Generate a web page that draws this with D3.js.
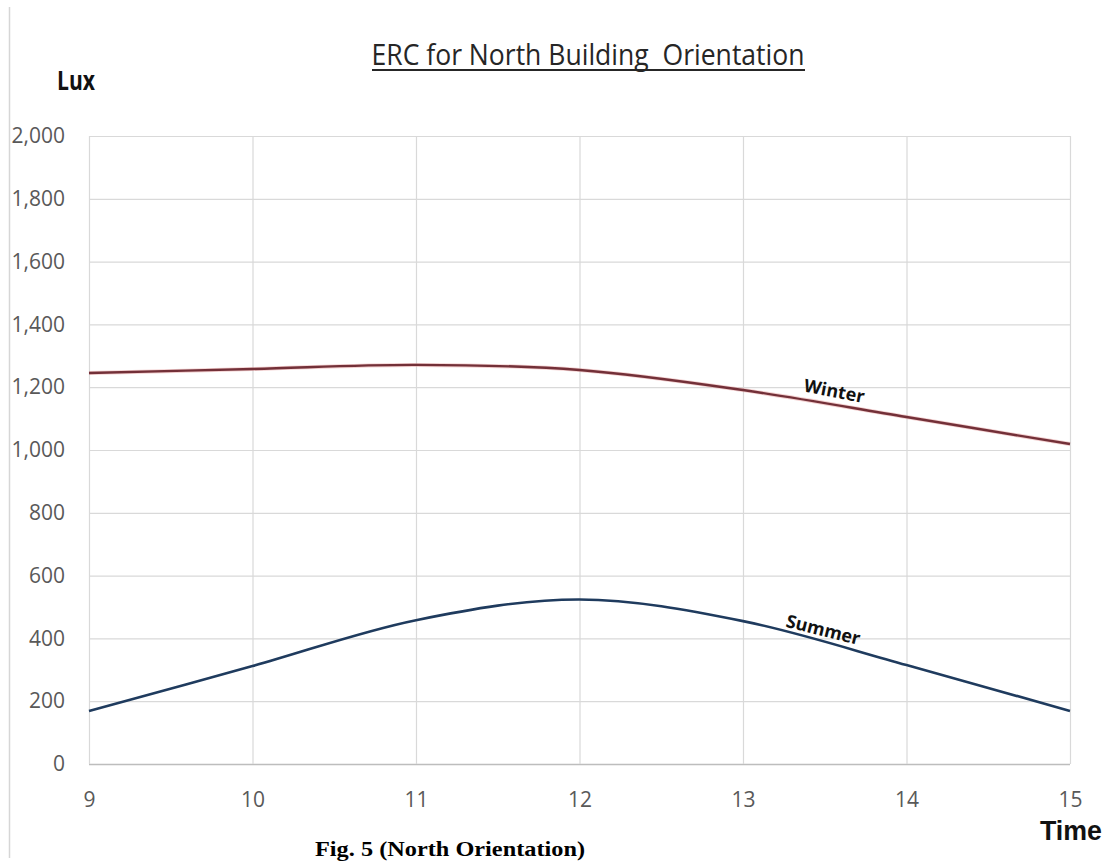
<!DOCTYPE html>
<html>
<head>
<meta charset="utf-8">
<script src="https://cdn.jsdelivr.net/npm/d3@7"></script>
<style>
  body { margin: 0; background: #ffffff; }
  svg { display: block; }
</style>
</head>
<body>
<div id="chart"></div>
<script>
// hours of the day (x axis)
var hours = [9, 10, 11, 12, 13, 14, 15];
// illuminance in lux
var winter = [1245, 1258, 1271, 1255, 1191, 1105, 1019];
var summer = [169, 312, 458, 524, 455, 315, 169];
var yTicks = [0, 200, 400, 600, 800, 1000, 1200, 1400, 1600, 1800, 2000];
var seriesNames = ["Winter", "Summer"];
// where the in-chart labels sit, in data units [hour, lux]
var labelAt = [[13.55, 1165], [13.48, 405]];

var W = 1111, H = 861;
var margin = {top: 136, right: 41, bottom: 97, left: 89};
var width = W - margin.left - margin.right,
    height = H - margin.top - margin.bottom;

var svg = d3.select('#chart')
    .append('svg')
    .attr('width', W)
    .attr('height', H);

// thin figure border on the left
svg.append('line')
    .attr('x1', 9.5).attr('x2', 9.5)
    .attr('y1', 7).attr('y2', 858)
    .attr('stroke', '#d6d6d6')
    .attr('stroke-width', 1.5);

var g = svg.append('g')
    .attr('transform', 'translate(' + margin.left + ',' + margin.top + ')');

var x = d3.scaleLinear().domain([9, 15]).range([0, width]);
var y = d3.scaleLinear().domain([0, 2000]).range([height, 0]);

// horizontal gridlines + y labels
var yAxis = g.append('g')
    .call(d3.axisLeft(y).tickValues(yTicks).tickSize(-width).tickPadding(24).tickFormat(d3.format(',')));
yAxis.select('.domain').remove();
yAxis.selectAll('.tick line')
    .attr('stroke', function(d) { return d === 0 ? '#bdbdbd' : '#d9d9d9'; })
    .attr('stroke-width', function(d) { return d === 0 ? 1.6 : 1.2; });
yAxis.selectAll('.tick text')
    .attr('fill', '#595959')
    .attr('font-family', '"Open Sans", sans-serif')
    .attr('font-size', 21);

// vertical gridlines + x labels
var xAxis = g.append('g')
    .attr('transform', 'translate(0,' + height + ')')
    .call(d3.axisBottom(x).tickValues(hours).tickSize(-height).tickPadding(28).tickFormat(d3.format('d')));
xAxis.select('.domain').remove();
xAxis.selectAll('.tick line')
    .attr('stroke', '#d9d9d9')
    .attr('stroke-width', 1.2);
xAxis.selectAll('.tick text')
    .attr('fill', '#595959')
    .attr('font-family', '"Open Sans", sans-serif')
    .attr('font-size', 21);

// smooth lines like Excel's "smoothed line"
var line = d3.line()
    .x(function(d, i) { return x(hours[i]); })
    .y(function(d) { return y(d); })
    .curve(d3.curveCatmullRom.alpha(0.5));

g.append('path')
    .datum(winter)
    .attr('d', line)
    .attr('fill', 'none')
    .attr('stroke', '#e8a0a0')
    .attr('stroke-width', 4)
    .attr('opacity', 0.5);
g.append('path')
    .datum(winter)
    .attr('d', line)
    .attr('fill', 'none')
    .attr('stroke', '#733038')
    .attr('stroke-width', 2.4);

g.append('path')
    .datum(summer)
    .attr('d', line)
    .attr('fill', 'none')
    .attr('stroke', '#1f3b5e')
    .attr('stroke-width', 2.6);

// series labels along the curves
var angles = [11, 14];
seriesNames.forEach(function(name, i) {
    var px = x(labelAt[i][0]), py = y(labelAt[i][1]);
    g.append('text')
        .attr('transform', 'translate(' + px + ',' + py + ') rotate(' + angles[i] + ')')
        .attr('text-anchor', 'middle')
        .attr('dy', -1)
        .attr('font-family', '"Open Sans", sans-serif')
        .attr('font-weight', 'bold')
        .attr('font-size', 18)
        .attr('fill', '#111111')
        .text(name);
});

// title, underlined
svg.append('text')
    .attr('x', 588)
    .attr('y', 65)
    .attr('text-anchor', 'middle')
    .attr('font-family', '"Open Sans", sans-serif')
    .attr('font-size', 29)
    .attr('fill', '#262626')
    .attr('textLength', 433)
    .attr('lengthAdjust', 'spacingAndGlyphs')
    .style('white-space', 'pre')
    .text('ERC for North Building  Orientation');
svg.append('line')
    .attr('x1', 372).attr('x2', 805)
    .attr('y1', 70).attr('y2', 70)
    .attr('stroke', '#262626')
    .attr('stroke-width', 2);

// axis names
svg.append('text')
    .attr('x', 57).attr('y', 90)
    .attr('font-family', '"Open Sans", sans-serif')
    .attr('font-weight', 'bold')
    .attr('font-size', 27)
    .attr('fill', '#111111')
    .attr('textLength', 38)
    .attr('lengthAdjust', 'spacingAndGlyphs')
    .text('Lux');

svg.append('text')
    .attr('x', 1040).attr('y', 840)
    .attr('font-family', '"Liberation Sans", sans-serif')
    .attr('font-weight', 'bold')
    .attr('font-size', 28)
    .attr('fill', '#111111')
    .attr('textLength', 62)
    .attr('lengthAdjust', 'spacingAndGlyphs')
    .text('Time');

// figure caption
svg.append('text')
    .attr('x', 315).attr('y', 856)
    .attr('font-family', '"Liberation Serif", "Times New Roman", serif')
    .attr('font-weight', 'bold')
    .attr('font-size', 21)
    .attr('fill', '#000000')
    .attr('textLength', 270)
    .attr('lengthAdjust', 'spacingAndGlyphs')
    .text('Fig. 5 (North Orientation)');
</script>
</body>
</html>
